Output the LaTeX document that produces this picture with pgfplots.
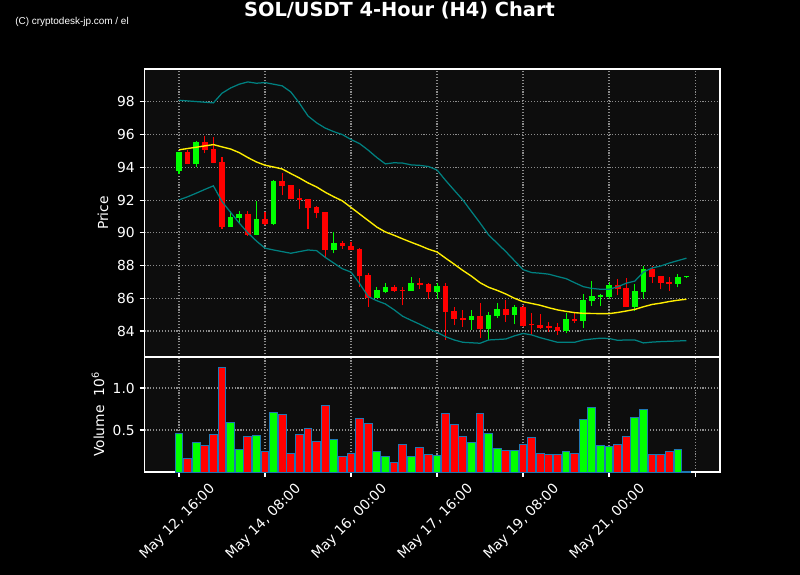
\documentclass[border=0pt]{standalone}
\usepackage{pgfplots}
\pgfplotsset{compat=1.18}
\usepackage{pgfplotstable}
\usepackage{fontspec}
\setmainfont{DejaVu Sans}
\newfontfamily\wmfont{Liberation Sans}

\definecolor{axbg}{RGB}{13,13,13}
\definecolor{gridc}{RGB}{140,140,140}
\definecolor{bandc}{RGB}{0,128,128}
\definecolor{smac}{RGB}{255,238,0}
\definecolor{upc}{RGB}{0,255,0}
\definecolor{dnc}{RGB}{255,0,0}
\definecolor{edgec}{RGB}{31,119,180}

\pgfplotstableread{
x o h l c
0 93.80 94.95 93.58 94.94
2 94.23 95.60 94.03 95.57
6 90.38 91.36 90.36 90.97
7 90.91 91.32 90.62 91.15
9 89.89 91.97 89.85 90.85
11 90.56 93.20 90.50 93.17
18 88.97 90.04 88.75 89.38
23 86.04 86.67 86.00 86.51
24 86.40 86.92 86.31 86.69
27 86.47 87.30 86.45 86.92
30 86.40 86.92 85.94 86.75
34 84.69 85.27 84.06 84.92
36 84.12 85.18 83.45 84.98
37 84.94 85.73 84.78 85.35
39 85.00 85.59 84.41 85.47
45 84.00 85.08 83.86 84.74
47 84.63 86.25 84.17 85.92
48 85.85 87.04 85.53 86.14
49 86.10 86.26 85.53 86.18
50 86.10 87.02 85.94 86.80
53 85.47 86.86 85.24 86.45
54 86.41 87.98 85.96 87.79
58 86.89 87.49 86.67 87.29
59 87.28 87.35 87.25 87.30
}\upcandles

\pgfplotstableread{
x o h l c
1 94.94 95.07 94.19 94.23
3 95.57 95.94 94.86 95.07
4 95.13 95.88 94.25 94.27
5 94.33 94.62 90.22 90.38
8 91.15 91.34 89.81 89.89
10 90.85 91.26 90.50 90.56
12 93.17 93.64 92.30 92.88
13 92.93 92.95 92.05 92.09
14 92.13 92.66 91.44 92.01
15 92.07 92.09 90.22 91.54
16 91.60 91.65 90.89 91.23
17 91.28 91.30 88.53 88.97
19 89.38 89.49 89.00 89.22
20 89.20 89.44 88.95 88.95
21 89.01 89.09 86.71 87.36
22 87.41 87.57 85.49 86.04
25 86.69 86.83 86.40 86.47
26 86.51 86.67 85.57 86.47
28 86.94 87.22 86.55 86.83
29 86.86 86.96 85.94 86.40
31 86.75 86.92 83.45 85.18
32 85.22 85.45 84.37 84.75
33 84.80 85.29 84.23 84.69
35 84.94 85.73 83.56 84.12
38 85.35 85.92 84.57 84.98
40 85.47 85.57 84.23 84.33
41 84.38 85.08 83.74 84.35
42 84.37 85.02 84.11 84.20
43 84.33 84.57 83.96 84.17
44 84.25 84.47 83.76 84.00
46 84.75 85.12 84.51 84.63
51 86.80 87.16 86.18 86.59
52 86.63 87.22 85.47 85.47
55 87.79 87.98 86.95 87.30
56 87.36 87.36 86.55 86.94
57 87.02 87.32 86.47 86.89
}\dncandles

\pgfplotstableread{
x up mid lo
0 98.10 95.07 92.01
1 98.06 95.15 92.20
2 98.02 95.23 92.42
3 97.98 95.31 92.65
4 97.94 95.39 92.87
5 98.53 95.25 91.91
6 98.85 95.12 91.25
7 99.08 94.90 90.60
8 99.22 94.60 90.00
9 99.14 94.33 89.50
10 99.18 94.13 89.06
11 99.08 94.02 88.95
12 98.98 93.90 88.85
13 98.61 93.62 88.75
14 97.92 93.35 88.85
15 97.14 93.05 88.95
16 96.72 92.80 88.91
17 96.40 92.48 88.50
18 96.18 92.20 88.15
19 96.00 91.95 87.80
20 95.70 91.55 87.60
21 95.45 91.15 86.90
22 95.05 90.75 86.10
23 94.60 90.35 85.85
24 94.21 90.05 85.65
25 94.28 89.85 85.30
26 94.26 89.63 84.90
27 94.15 89.42 84.65
28 94.12 89.22 84.41
29 94.05 89.00 84.15
30 93.84 88.83 83.92
31 93.20 88.45 83.65
32 92.60 88.08 83.45
33 92.01 87.70 83.31
34 91.30 87.35 83.28
35 90.60 86.95 83.25
36 89.87 86.67 83.45
37 89.36 86.48 83.48
38 88.85 86.26 83.51
39 88.30 86.00 83.70
40 87.75 85.79 83.85
41 87.57 85.68 83.76
42 87.53 85.57 83.59
43 87.47 85.42 83.45
44 87.33 85.29 83.31
45 87.20 85.20 83.31
46 86.95 85.12 83.31
47 86.71 85.08 83.45
48 86.60 85.07 83.51
49 86.55 85.06 83.56
50 86.55 85.06 83.54
51 86.70 85.13 83.43
52 86.92 85.22 83.45
53 87.05 85.32 83.45
54 87.60 85.48 83.27
55 87.85 85.62 83.32
56 87.97 85.70 83.35
57 88.15 85.80 83.37
58 88.30 85.88 83.39
59 88.45 85.94 83.41
}\bands

\pgfplotstableread{
x v
0 0.460
2 0.353
6 0.590
7 0.270
9 0.437
11 0.710
18 0.389
23 0.246
24 0.187
27 0.187
30 0.200
34 0.353
36 0.460
37 0.282
39 0.258
45 0.246
47 0.627
48 0.770
49 0.318
50 0.306
53 0.651
54 0.746
58 0.270
59 0.004
}\upvol

\pgfplotstableread{
x v
1 0.163
3 0.310
4 0.449
5 1.246
8 0.425
10 0.246
12 0.687
13 0.222
14 0.449
15 0.520
16 0.365
17 0.794
19 0.187
20 0.222
21 0.639
22 0.580
25 0.115
26 0.330
28 0.294
29 0.210
31 0.699
32 0.568
33 0.425
35 0.699
38 0.258
40 0.330
41 0.413
42 0.222
43 0.210
44 0.210
46 0.222
51 0.330
52 0.425
55 0.210
56 0.210
57 0.246
}\dnvol

\pgfplotsset{
  darkax/.style={
    scale only axis, width=5.755in,
    xmin=-4.01, xmax=62.9,
    axis background/.style={fill=axbg},
    axis line style={white, line width=0.8pt},
    tick style={white, line width=0.8pt},
    major tick length=0.049in,
    tick align=outside,
    xtick={0,10,...,60},
    grid=major,
    major grid style={gridc, line width=0.8pt, dash pattern=on 0.8pt off 1.3pt},
    ticklabel style={white, font=\fontsize{10}{12}\selectfont},
    /pgf/number format/assume math mode=true,
    xtick pos=bottom, ytick pos=left,
    label style={white, font=\fontsize{10}{12}\selectfont},
  },
  wick/.style={draw=none, mark=none,
    error bars/.cd, y dir=plus, y explicit, error mark=none,
    error bar style={draw=#1, line width=0.75pt}},
  body/.style={draw=none, mark=none,
    error bars/.cd, y dir=plus, y explicit, error mark=none,
    error bar style={draw=#1, line width=0.057in}},
}

\begin{document}
\begin{tikzpicture}
\path[use as bounding box, fill=black] (0,0) rectangle (8in,5.75in);

\begin{axis}[darkax, at={(1.445in,2.18in)}, anchor=south west,
  height=2.88in, ymin=82.41, ymax=100.01,
  ytick={84,86,...,98}, xticklabels={},
  ylabel={Price},
  ylabel style={at={(axis description cs:-0.0721,0.5)}, anchor=center},
]
\addplot[wick=upc] table[x=x, y=l, y error plus expr={\thisrow{h}-\thisrow{l}}] {\upcandles};
\addplot[wick=dnc] table[x=x, y=l, y error plus expr={\thisrow{h}-\thisrow{l}}] {\dncandles};
\addplot[body=upc] table[x=x, y=o, y error plus expr={max(\thisrow{c}-\thisrow{o},0.06)}] {\upcandles};
\addplot[body=dnc] table[x=x, y=c, y error plus expr={max(\thisrow{o}-\thisrow{c},0.06)}] {\dncandles};
\addplot[bandc, line width=0.9pt, mark=none] table[x=x, y=up] {\bands};
\addplot[bandc, line width=0.9pt, mark=none] table[x=x, y=lo] {\bands};
\addplot[smac, line width=1pt, mark=none] table[x=x, y=mid] {\bands};
\end{axis}

\begin{axis}[darkax, at={(1.445in,1.03in)}, anchor=south west,
  height=1.15in, ymin=0, ymax=1.369,
  ytick={0.5,1.0}, yticklabels={0.5,1.0},
  xticklabels={{May 12, 16:00},{May 14, 08:00},{May 16, 00:00},{May 17, 16:00},{May 19, 08:00},{May 21, 00:00},{}},
  xticklabel style={xshift=0.29in, yshift=-0.05in, rotate=45, anchor=north east, inner sep=0pt},
  ylabel={Volume\ \ 10\textsuperscript{6}},
  ylabel style={at={(axis description cs:-0.0808,0.5)}, anchor=center},
]
\addplot[ybar, bar width=0.9, bar shift=0pt, fill=upc, draw=edgec, line width=0.7pt] table[x=x, y=v] {\upvol};
\addplot[ybar, bar width=0.9, bar shift=0pt, fill=dnc, draw=edgec, line width=0.7pt] table[x=x, y=v] {\dnvol};
\end{axis}

\node[anchor=base, white, inner sep=0pt, font=\bfseries\fontsize{14}{16}\selectfont] at (3.995in,5.58in) {SOL/USDT 4-Hour (H4) Chart};
\node[anchor=base west, white, inner sep=0pt, font=\wmfont\fontsize{7.2}{8}\selectfont] at (0.15in,5.507in) {(C) cryptodesk-jp.com / el};
\end{tikzpicture}
\end{document}
